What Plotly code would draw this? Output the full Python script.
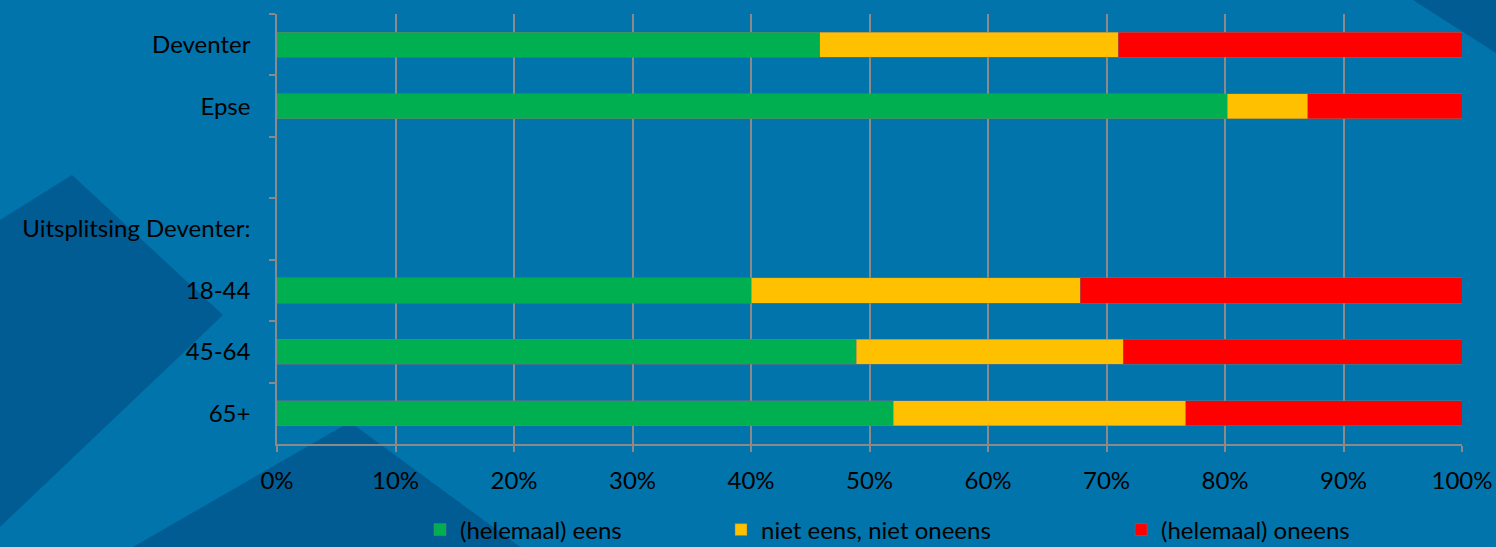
import plotly.graph_objects as go

categories = ["Deventer", "Epse", " ", "Uitsplitsing Deventer:", "18-44", "45-64", "65+"]
eens = [45.8, 80.2, None, None, 40.0, 48.9, 52.0]
neutraal = [25.2, 6.8, None, None, 27.8, 22.5, 24.7]
oneens = [29.0, 13.0, None, None, 32.2, 28.6, 23.3]
series_names = ["(helemaal) eens", "niet eens, niet oneens", "(helemaal) oneens"]
series_colors = ["#00B050", "#FFC000", "#FF0000"]
x_ticks = [0, 10, 20, 30, 40, 50, 60, 70, 80, 90, 100]
x_ticklabels = [f"{t}%" for t in x_ticks]

W, H = 1496, 547
L, R, T, B = 277, 1462, 14, 444


def px(x):
    return (x - L) / (R - L)


def py(y):
    return (B - y) / (B - T)


def poly(pts):
    return "M " + " L ".join(f"{px(a):.4f},{py(b):.4f}" for a, b in pts) + " Z"


fig = go.Figure()
legends = ["legend2", "legend3", "legend4"]
for vals, name, col, lg in zip([eens, neutraal, oneens], series_names, series_colors, legends):
    fig.add_trace(go.Bar(
        y=categories, x=vals, name=name, orientation="h",
        marker=dict(color=col, line=dict(color="rgba(120,120,120,0.6)", width=0.8)),
        legend=lg, showlegend=True,
    ))

dark = "#005C93"
shapes = [
    dict(type="path", path=poly([(0, 220), (72, 175), (223, 315), (0, 527)]),
         xref="paper", yref="paper", fillcolor=dark, line=dict(width=0), layer="below"),
    dict(type="path", path=poly([(133, 547), (350, 422), (520, 547)]),
         xref="paper", yref="paper", fillcolor=dark, line=dict(width=0), layer="below"),
    dict(type="path", path=poly([(1413, 0), (1496, 0), (1496, 53)]),
         xref="paper", yref="paper", fillcolor=dark, line=dict(width=0), layer="below"),
]

font = dict(family="Lato, Open Sans, sans-serif", size=24, color="#000000")
leg_common = dict(orientation="h", yanchor="middle", xanchor="left", y=py(530),
                  bgcolor="rgba(0,0,0,0)", font=font, itemwidth=30)

fig.update_layout(
    width=W, height=H,
    margin=dict(l=L, r=W - R, t=T, b=H - B, autoexpand=False),
    barmode="stack", bargap=0.59,
    paper_bgcolor="#0074AB", plot_bgcolor="rgba(0,0,0,0)",
    font=font,
    shapes=shapes,
    showlegend=True,
    legend2=dict(x=px(420), **leg_common),
    legend3=dict(x=px(721), **leg_common),
    legend4=dict(x=px(1121), **leg_common),
    xaxis=dict(
        range=[0, 100], tickvals=x_ticks, ticktext=x_ticklabels,
        showgrid=True, gridcolor="#8A8A8A", gridwidth=1.5,
        showline=True, linecolor="#8A8A8A", linewidth=1.5,
        ticks="outside", ticklen=6, tickcolor="#8A8A8A", tickwidth=1.5,
        zeroline=False, fixedrange=True, tickfont=font, automargin=False,
        ticklabelstandoff=8,
    ),
    yaxis=dict(
        type="category", categoryorder="array", categoryarray=categories,
        autorange="reversed",
        showline=True, linecolor="#8A8A8A", linewidth=1.5,
        ticks="outside", ticklen=6, tickcolor="#8A8A8A", tickwidth=1.5,
        tickson="boundaries", showgrid=False, ticklabelstandoff=20,
        tickfont=font, automargin=False, fixedrange=True,
    ),
)

fig.write_html("out.html", config={"displayModeBar": False},
               post_script="document.body.style.margin='0';")
